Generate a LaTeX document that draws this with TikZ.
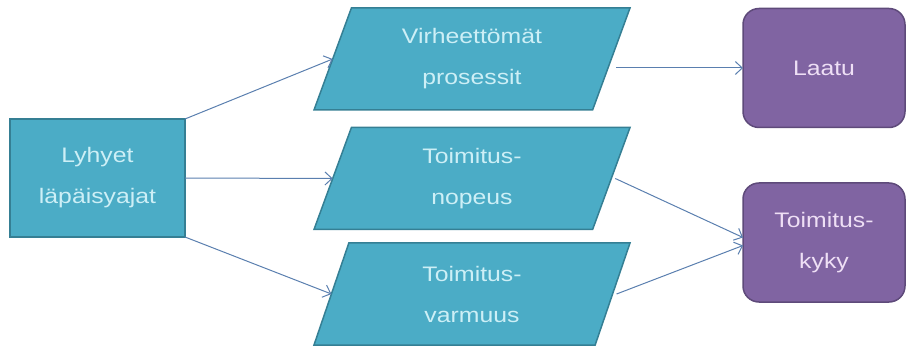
\documentclass[tikz,border=0pt]{standalone}
\usepackage{fontspec}
\setmainfont[FakeStretch=1.18]{Liberation Sans}
\usetikzlibrary{shapes.geometric,arrows.meta}
\definecolor{tealfill}{HTML}{4BACC6}
\definecolor{tealline}{HTML}{357F94}
\definecolor{tealtext}{HTML}{CDEFF6}
\definecolor{purpfill}{HTML}{8064A2}
\definecolor{purpline}{HTML}{5E4A7A}
\definecolor{purptext}{HTML}{EEDFF5}
\definecolor{conn}{HTML}{5A7FAF}
\tikzset{
  basetext/.style={font=\fontsize{21}{41}\selectfont, align=center, inner sep=0pt, outer sep=0pt},
  srcbox/.style={basetext, draw=tealline, fill=tealfill, text=tealtext, line width=1.5pt,
     minimum width=175pt, minimum height=118pt},
  parabox/.style={basetext, trapezium, trapezium left angle=58.3, trapezium right angle=121.7,
     trapezium stretches body, draw=tealline, fill=tealfill, text=tealtext, line width=1.5pt,
     minimum width=316pt, minimum height=102pt},
  goalbox/.style={basetext, rectangle, rounded corners=16pt, draw=purpline, fill=purpfill, text=purptext,
     line width=1.5pt, minimum width=162pt, minimum height=119pt},
  conn/.style={draw=conn, line width=1pt, -{Straight Barb[length=7pt,width=13pt]}}
}
\begin{document}
\begin{tikzpicture}[x=1pt,y=-1pt]
\useasboundingbox (0,0) rectangle (907,347);
\node[srcbox] (lbox) at (97.5,178) {Lyhyet\\läpäisyajat};
\node[parabox] (p1) at (472,59) {Virheettömät\\prosessit};
\node[parabox] (p2) at (472,178.5) {Toimitus-\\nopeus};
\node[parabox] (p3) at (472,294) {Toimitus-\\varmuus};
\node[goalbox] (laatu) at (824,68) {Laatu};
\node[goalbox] (kyky) at (824,242.5) {Toimitus-\\kyky};
\draw[conn] (lbox.north east) -- (p1.left side);
\draw[conn] (lbox.east) -- (p2.left side);
\draw[conn] (lbox.south east) -- (p3.left side);
\draw[conn] ([xshift=5pt]p1.right side |- laatu.west) -- (laatu.west);
\draw[conn] ([xshift=4pt]p2.right side) -- ([yshift=5pt]kyky.west);
\draw[conn] ([xshift=4pt]p3.right side) -- ([yshift=-3pt]kyky.west);
\end{tikzpicture}
\end{document}
